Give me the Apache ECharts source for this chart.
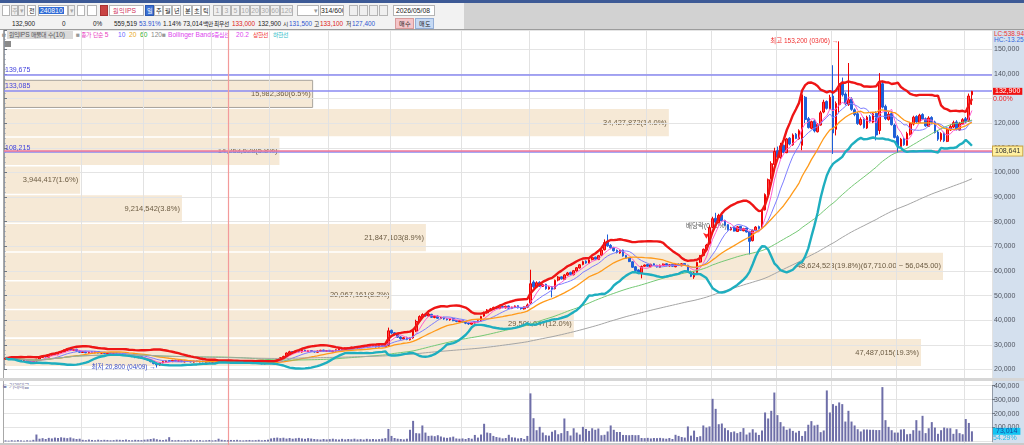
<!DOCTYPE html>
<html lang="ko">
<head>
<meta charset="utf-8">
<title>원익IPS 일봉</title>
<script src="https://cdn.jsdelivr.net/npm/echarts@6/dist/echarts.min.js"></script>
<style>
  @font-face { font-family: 'KRs'; src: local('Noto Sans CJK KR Regular'), local('NotoSansCJKkr-Regular'), local('Noto Sans CJK KR'); size-adjust: 90%; }
  body { margin: 0; width: 1024px; height: 445px; overflow: hidden; background: #fff;
         font-family: 'Liberation Sans', 'KRs', 'Noto Sans CJK KR', sans-serif; font-size: 6.8px; color: #222; }
  .a { position: absolute; white-space: nowrap; }
  .bx { position: absolute; top: 5px; height: 11px; line-height: 10px; border: 1px solid #b4b4b4; background: #fff;
        text-align: center; box-sizing: border-box; overflow: hidden; }
  .off { color: #a8a8a8; background: #efefef; }
  .r2 { position: absolute; top: 19px; line-height: 10px; white-space: nowrap; font-size: 6.4px; }
  .lg { position: absolute; top: 30px; line-height: 9px; white-space: nowrap; font-size: 6.6px; }
  #chart { position: absolute; left: 0; top: 0; width: 1024px; height: 445px; z-index: 5; }
</style>
</head>
<body>
<!-- 상단 툴바 -->
<div class="a" style="left:0;top:0;width:1024px;height:3px;background:#3d5a96"></div>
<div class="a" style="left:0;top:3px;width:1024px;height:26px;background:#d2d2d2"></div>
<div class="a" style="left:0;top:3px;width:464px;height:26px;background:#f2f2f2"></div>
<div class="a" style="left:0;top:29px;width:1024px;height:1px;background:#9c9c9c"></div>

<div class="bx" style="left:2px;width:8px"></div>
<div class="bx off" style="left:11px;width:7px">주</div>
<div class="bx off" style="left:18px;width:7px">▾</div>
<div class="bx" style="left:27px;width:9px">전</div>
<div class="bx" style="left:38px;width:30px;text-align:left"><span style="background:#2f6bd6;color:#fff;padding:0 1px">240810</span></div>
<div class="bx off" style="left:68px;width:7px">▾</div>
<div class="bx" style="left:77px;width:8px"></div>
<div class="bx" style="left:87px;width:10px"></div>
<div class="bx" style="left:100px;width:8px;background:#c94444;border-color:#a33"></div>
<div class="bx" style="left:109px;width:35px;text-align:left;padding-left:3px;color:#d0305a">원익IPS</div>
<div class="bx" style="left:145px;width:9px;background:#3b6fd3;color:#fff;border-color:#2b58b0">일</div>
<div class="bx" style="left:154px;width:9px">주</div>
<div class="bx" style="left:163px;width:9px">월</div>
<div class="bx" style="left:172px;width:9px">년</div>
<div class="bx" style="left:183px;width:9px">분</div>
<div class="bx" style="left:192px;width:9px">초</div>
<div class="bx" style="left:201px;width:9px">틱</div>
<div class="bx off" style="left:213px;width:9px">1</div>
<div class="bx off" style="left:222px;width:9px">3</div>
<div class="bx off" style="left:231px;width:9px">5</div>
<div class="bx off" style="left:240px;width:10px">10</div>
<div class="bx off" style="left:250px;width:10px">20</div>
<div class="bx off" style="left:260px;width:10px">30</div>
<div class="bx off" style="left:270px;width:10px">60</div>
<div class="bx off" style="left:280px;width:13px">120</div>
<div class="bx" style="left:297px;width:22px;text-align:right;color:#999">▾</div>
<div class="bx" style="left:320px;width:24px">314/600</div>
<div class="bx off" style="left:349px;width:9px"></div>
<div class="bx off" style="left:359px;width:9px"></div>
<div class="bx off" style="left:369px;width:9px"></div>
<div class="bx off" style="left:379px;width:9px"></div>
<div class="bx" style="left:393px;width:42px;text-align:left;padding-left:2px">2026/05/08</div>

<div class="r2" style="left:12px">132,900</div>
<div class="r2" style="left:62px">0</div>
<div class="r2" style="left:93px">0%</div>
<div class="r2" style="left:114px">559,519</div>
<div class="r2" style="left:139px;color:#2c55d0">53.91%</div>
<div class="r2" style="left:163px">1.14%</div>
<div class="r2" style="left:183px">73,014백만</div>
<div class="r2" style="left:214px">최우선</div>
<div class="r2" style="left:232px;color:#e02020">133,000</div>
<div class="r2" style="left:258px">132,900</div>
<div class="r2" style="left:283px">시</div>
<div class="r2" style="left:289px;color:#2c55d0">131,500</div>
<div class="r2" style="left:314px">고</div>
<div class="r2" style="left:320px;color:#e02020">133,100</div>
<div class="r2" style="left:346px">저</div>
<div class="r2" style="left:352px;color:#2c55d0">127,400</div>
<div class="bx" style="top:18px;left:395px;width:19px;background:#f4c4c8;border-color:#d89a9a">매수</div>
<div class="bx" style="top:18px;left:415px;width:19px;background:#c6d9f3;border-color:#94aed6">매도</div>

<!-- 패널 배경 -->
<div class="a" style="left:3px;top:30px;width:1px;height:415px;background:#a8a8a8"></div>
<div class="a" style="left:992px;top:30px;width:32px;height:415px;background:#d4e0ee"></div>
<div class="a" style="left:992px;top:30px;width:1px;height:415px;background:#aebdd0"></div>
<div class="a" style="left:0;top:378px;width:1024px;height:3px;background:#d6d6d6"></div>
<div class="a" style="left:0;top:443px;width:1024px;height:2px;background:#cacaca"></div>

<!-- 범례 -->
<div class="lg" style="left:2px;color:#999">■</div>
<div class="lg" style="left:7px;width:66px;background:#dadada;color:#555;padding-left:2px;box-sizing:border-box">원익IPS 매물대 수(10)</div>
<div class="lg" style="left:76px;color:#999">■</div>
<div class="lg" style="left:81px;color:#e83cc0">종가 단순 5</div>
<div class="lg" style="left:118px;color:#6666ff">10</div>
<div class="lg" style="left:129px;color:#e8a820">20</div>
<div class="lg" style="left:140px;color:#33b033">60</div>
<div class="lg" style="left:151px;color:#888">120</div>
<div class="lg" style="left:162px;color:#999">■</div>
<div class="lg" style="left:168px;color:#dd44ee">Bollinger Bands중심선</div>
<div class="lg" style="left:236px;color:#dd44ee">20.2</div>
<div class="lg" style="left:253px;color:#f03030">상한선</div>
<div class="lg" style="left:273px;color:#30bcc8">하한선</div>
<div class="a" style="left:4px;top:41px;width:7px;height:6px;background:#8a8a8a"></div>
<div class="a" style="left:994px;top:30px;color:#ee3333;font-size:6.5px">LC:538.94</div>
<div class="a" style="left:994px;top:36px;color:#3366dd;font-size:6.5px">HC:-13.25</div>
<div class="a" style="left:3px;top:381px;color:#8080a8;font-size:6.5px">■ 거래대금</div>

<div id="chart"></div>

<script>
// 일봉 시가/종가/저가/고가 (원)
const opens = [
  24200, 24700, 24400, 24700, 24300, 23900, 23400, 23700, 23300,
  22800, 23500, 24200, 24900, 25500, 25000, 25800, 26500, 26000,
  26700, 27200, 27800, 28500, 27700, 28200,
  27600, 26900, 27400, 26700, 27200, 26800, 27300, 26600,
  27000, 26400, 26900, 26300, 26700, 26100, 26600, 26100, 25900,
  25600, 25400, 24800, 25200, 24700, 24400,
  24000, 23300, 22500, 21800,
  22700, 23100, 23600, 23200, 23800, 23300, 23700, 23100, 23600, 23400, 23000, 23500, 23100,
  23400, 23000, 23400, 22900, 23300, 22800, 23000, 23400, 23100, 22700, 22900, 23300, 22800, 23200, 22900, 22600, 23000, 22500, 22900,
  22600, 22300, 22800, 22400, 22700,
  23200, 24000, 24900, 25200, 26600,
  27300, 26900, 27600, 27100, 27900, 27300, 27700, 27400, 27000,
  27400, 27900, 27300, 27800, 27200,
  27500, 27900, 28500, 28100, 28800, 28400, 29100, 28700, 29400, 29000, 29700, 29300, 29900, 29600, 29100, 29800,
  29300, 29800, 35900,
  34900, 34300, 33200, 32400, 33000, 32100,
  32800, 35600, 39700,
  41400, 42500, 41700,
  42400, 41100, 41700, 40700, 41200, 40600, 40100, 40700, 39900, 39400, 40000, 39300,
  38900, 38400, 38900, 39300,
  39700, 41700, 43000,
  44300, 44500, 45300, 44700, 45600, 45000, 45800, 44800, 45200, 45900, 45100, 44600,
  45300, 47000, 55500,
  53400, 55400, 53700, 54600, 52700, 53600,
  52800, 56300, 57600, 56600, 58300, 59400, 58500, 60000,
  61200, 62600, 64000, 63100, 64600, 65600, 64700,
  66400, 68600, 71800,
  70400, 69500, 68400, 67300, 68500, 66300, 65300, 63700, 61700, 60400,
  59200, 61900, 62600, 61700, 62900, 62300, 61500, 62200, 62900, 62000, 62700, 61700, 62800, 62100, 63000,
  62300, 59600, 57600,
  59400, 63600, 66300, 68700,
  71000, 77700, 81400, 79600, 82700, 80500,
  78800, 76700, 77700, 76000, 78100, 76300, 77400, 76000,
  72300, 76400, 78000,
  77500, 84800, 91200,
  97500, 103200, 108800,
  106000, 111000, 108000, 113900,
  111200, 115500, 113600, 111000,
  130500, 121800, 117900, 120900, 116500,
  119200, 124500, 128800, 125800,
  131000, 117500, 127500,
  136500, 131800, 127500, 129800,
  125400, 123800, 119500, 121800, 118000, 122600, 120400, 124000,
  117000,
  136000, 126800, 121500, 123900,
  119200, 114500, 110500, 113800, 111000,
  115500, 119600, 122700, 120300, 123500, 121800, 118700, 122300,
  120500, 116400, 113300, 116000, 112600,
  117200, 118400, 120500, 117200, 119600, 121800,
  120800, 131500
];
const closes = [
  24600, 24300, 24800, 24200, 23800, 23500, 23600, 23200, 22900,
  23400, 24100, 24800, 25400, 25100, 25900, 26400, 26100, 26800,
  27300, 27900, 28400, 27800, 28100, 27500,
  27000, 27300, 26800, 27100, 26900, 27200, 26700, 26900,
  26500, 26800, 26400, 26600, 26200, 26500, 26000, 25800, 25500,
  25300, 24900, 25100, 24600, 24300, 23900,
  23200, 22400, 21900, 22800,
  23200, 23500, 23300, 23700, 23400, 23600, 23200, 23500, 23300, 23100, 23400, 23200, 23300,
  23100, 23300, 23000, 23200, 22900, 23100, 23300, 23000, 22800, 23000, 23200, 22900, 23100, 22800, 22700, 22900, 22600, 22800, 22500,
  22400, 22700, 22500, 22800, 23300,
  24100, 24800, 25300, 26700, 27200,
  27000, 27500, 27200, 27800, 27400, 27600, 27300, 27100, 27500,
  27800, 27400, 27700, 27300, 27600,
  28000, 28400, 28200, 28700, 28500, 29000, 28800, 29300, 29100, 29600, 29400, 29800, 29500, 29200, 29700, 29400,
  29900, 35700, 34800,
  34200, 33100, 32500, 32900, 32200, 32700,
  35800, 39500, 41500,
  42300, 41800, 42500,
  41200, 41600, 40800, 41100, 40500, 40200, 40600, 39800, 39500, 39900, 39200, 38800,
  38500, 39000, 39400, 39800,
  41500, 43200, 44100,
  44600, 45200, 44800, 45500, 45100, 45700, 44900, 45300, 45800, 45000, 44700, 45400,
  46200, 54800, 53600,
  55200, 53800, 54500, 52800, 53400, 52600,
  56200, 57500, 56800, 58400, 59200, 58600, 60100, 61300,
  62500, 63800, 63200, 64500, 65400, 64800, 66200,
  68500, 71500, 70200,
  69400, 68200, 67500, 68300, 66100, 65200, 63800, 61500, 60200, 59400,
  61800, 62400, 61900, 62700, 62200, 61600, 62300, 62800, 62100, 62500, 61900, 62600, 62200, 62900, 62400,
  59500, 57800, 59200,
  63500, 66200, 68800, 70500,
  77500, 81200, 79800, 82500, 80300, 78600,
  76800, 77500, 76200, 77900, 76500, 77200, 75800, 72000,
  76500, 77800, 77200,
  84500, 91000, 97000,
  103500, 108500, 106200,
  110800, 108200, 113600, 111500,
  115200, 113800, 116900, 131500,
  121500, 118200, 120600, 116800, 119500,
  124200, 128500, 126000, 130500,
  116000, 128000, 136000,
  131500, 127800, 129500, 125600,
  123500, 119800, 121500, 118200, 122400, 120600, 123800, 115200,
  136500,
  126500, 121800, 123600, 119400,
  114200, 110800, 113500, 111200, 115800,
  119800, 122400, 120500, 123200, 121600, 118900, 122100, 120300,
  116200, 113500, 115800, 112800, 117400,
  118600, 120200, 117500, 119800, 121400, 120500,
  131000, 132900
];
const lows = [
  23900, 24000, 24200, 24000, 23600, 23300, 23200, 23000, 22700,
  22600, 23300, 24000, 24700, 24900, 24800, 25600, 25900, 25800,
  26500, 27000, 27600, 27600, 27500, 27200,
  26700, 26700, 26600, 26500, 26700, 26600, 26500, 26400,
  26200, 26200, 26200, 26100, 26000, 25900, 25800, 25600, 25200,
  25000, 24600, 24600, 24300, 24100, 23600,
  22900, 22100, 20800, 21500,
  22500, 22900, 23000, 23000, 23200, 23100, 23000, 22900, 23100, 22900, 22800, 23000, 22900,
  22900, 22800, 22800, 22700, 22700, 22700, 22800, 22800, 22600, 22500, 22700, 22700, 22600, 22600, 22500, 22400, 22400, 22300, 22300,
  22100, 22100, 22300, 22200, 22500,
  23000, 23700, 24600, 25000, 26300,
  26700, 26700, 27000, 26900, 27200, 27100, 27100, 26900, 26800,
  27200, 27200, 27100, 27100, 27000,
  27300, 27700, 28000, 27900, 28300, 28200, 28600, 28500, 28900, 28800, 29200, 29100, 29300, 28900, 29000, 29100,
  29000, 29500, 34300,
  33800, 32800, 32100, 32100, 31900, 31800,
  32500, 35200, 39300,
  41000, 41400, 41300,
  40900, 40800, 40500, 40400, 40200, 39900, 39800, 39600, 39200, 39200, 38900, 38400,
  38100, 38200, 38700, 39000,
  39500, 41400, 42700,
  43900, 44300, 44500, 44500, 44900, 44800, 44600, 44500, 45000, 44800, 44300, 44300,
  44900, 46500, 53000,
  53000, 53500, 53500, 52400, 52400, 49300,
  52500, 55800, 56500, 56300, 58000, 58200, 58200, 59700,
  61000, 62300, 62900, 62900, 64300, 64500, 64400,
  66100, 68300, 69800,
  68800, 67900, 67100, 67000, 65800, 65000, 63600, 61200, 59800, 58700,
  57000, 61700, 61700, 61500, 62000, 61400, 61300, 62000, 61900, 61800, 61700, 61500, 62000, 61900, 62200,
  59200, 57500, 56800,
  59200, 63300, 66000, 68400,
  70800, 77300, 79300, 79300, 80100, 78300,
  76400, 76400, 76000, 75800, 76300, 76100, 75600, 66700,
  72000, 76200, 76800,
  77300, 84500, 90800,
  97200, 102800, 105800,
  105500, 107800, 107800, 111000,
  110800, 113500, 113300, 109000,
  120000, 117800, 117500, 116200, 116200,
  119000, 124000, 125500, 125500,
  107500, 115000, 124000,
  130800, 127200, 127000, 125000,
  122800, 119300, 119000, 117800, 117600, 120200, 120000, 113000,
  115500,
  126000, 121200, 121000, 119000,
  113800, 108000, 110000, 110800, 110800,
  115000, 119000, 120000, 120000, 121200, 118500, 118500, 119800,
  115800, 112800, 112500, 112300, 112300,
  116800, 118000, 117000, 117000, 119300, 120000,
  120500, 127400
];
const highs = [
  24900, 24800, 25000, 24900, 24400, 24000, 23800, 23800, 23400,
  23600, 24300, 25000, 25600, 25700, 26100, 26600, 26600, 27000,
  27500, 28100, 28700, 28600, 28300, 28400,
  27700, 27500, 27500, 27300, 27400, 27400, 27400, 27100,
  27100, 27000, 27000, 26800, 26800, 26700, 26700, 26300, 26000,
  25800, 25500, 25300, 25300, 24900, 24500,
  24100, 23500, 22700, 23000,
  23400, 23700, 23800, 23900, 23900, 23700, 23800, 23600, 23700, 23500, 23500, 23600, 23400,
  23500, 23400, 23500, 23300, 23400, 23200, 23400, 23500, 23200, 23100, 23300, 23400, 23200, 23300, 23000, 23000, 23100, 22900, 23000,
  22700, 22800, 22900, 22900, 23500,
  24400, 25000, 25600, 26900, 27600,
  27500, 27700, 27800, 28000, 28000, 27800, 27800, 27500, 27700,
  28000, 28000, 27900, 27900, 27800,
  28200, 28600, 28700, 28900, 28900, 29200, 29200, 29500, 29500, 29800, 29800, 30000, 30100, 29800, 29900, 30000,
  30200, 37000, 36200,
  35200, 34500, 33500, 33200, 33300, 33000,
  36500, 40200, 42000,
  42800, 42700, 42900,
  42600, 41900, 41900, 41300, 41400, 40800, 40800, 40900, 40100, 40100, 40200, 39500,
  39100, 39200, 39600, 40000,
  41800, 43500, 44500,
  45000, 45500, 45500, 45800, 45800, 45900, 46000, 45500, 46000, 46100, 45200, 45600,
  46800, 60500, 56200,
  55800, 55800, 54900, 54800, 53800, 53900,
  56500, 57900, 57800, 58700, 59600, 59700, 60400, 61600,
  62800, 64200, 64300, 64800, 65800, 65800, 66500,
  68800, 72800, 74800,
  70900, 69800, 68700, 68600, 68700, 66500, 65500, 64000, 62000, 60700,
  62200, 62600, 62800, 62900, 63100, 62500, 62600, 63000, 63100, 62800, 62900, 62900, 63000, 63200, 63200,
  62500, 60100, 59700,
  63800, 66500, 69100, 71000,
  78500, 82000, 83600, 83200, 83000, 80800,
  79000, 77900, 78000, 78300, 78300, 77500, 77600, 76300,
  76800, 78200, 78400,
  85000, 91500, 97500,
  104500, 110000, 110500,
  112000, 111300, 114000, 114300,
  115800, 116000, 117500, 133500,
  131000, 122500, 121000, 121500, 120000,
  125000, 129500, 129200, 131500,
  143500, 128800, 153200,
  138500, 132500, 144400, 130500,
  126000, 124500, 122300, 122500, 123000, 123300, 124500, 124800,
  140300,
  137200, 127500, 124500, 124800,
  119800, 115200, 114000, 114300, 116500,
  120500, 123000, 123200, 123800, 124000, 122300, 122800, 122800,
  121000, 117000, 116300, 116500, 118000,
  119500, 121000, 121200, 120500, 122000, 122500,
  132000, 133100
];
// 거래대금 (백만원)
const volumes = [
  8000, 6000, 9000, 7000, 10000, 8000, 6000, 9000, 7000, 12000,
  50000,
  20000, 24000, 18000, 26000, 22000, 28000, 25000, 30000, 27000, 24000, 29000, 22000, 18000, 20000,
  12000, 10000, 14000, 11000, 9000, 13000, 10000, 12000, 11000, 9000, 10000, 13000, 12000, 11000, 14000,
  10000, 9000, 12000, 11000, 10000, 13000, 15000, 18000, 22000, 16000, 12000, 10000, 14000,
  31000,
  10000, 9000, 11000, 8000, 10000, 9000, 12000, 8000, 9000, 10000, 7000, 9000, 11000, 8000, 10000,
  20000,
  12000, 10000, 9000, 11000, 10000, 12000, 9000, 8000, 10000, 11000, 9000, 10000, 12000, 9000, 11000, 13000,
  22000, 26000, 28000, 24000, 27000, 21000, 25000, 20000, 23000, 26000, 22000, 19000, 24000, 21000, 18000,
  16000, 14000, 18000, 15000, 17000, 20000, 16000, 14000, 19000, 15000, 18000, 16000, 20000, 15000, 17000,
  14000, 19000, 16000, 18000, 15000, 17000, 20000, 24000,
  90000, 40000,
  25000, 20000, 18000, 15000, 20000,
  84000, 148000, 60000, 58000, 115000, 64000,
  40000, 42000, 38000, 45000, 36000,
  29000, 26000, 30000, 35000, 22000,
  20000, 22000, 18000, 25000, 20000,
  47000, 28000, 50000, 127000, 64000, 60000,
  40000, 32000, 28000, 22000, 25000,
  48000,
  30000, 28000, 22000, 25000, 18000,
  40000, 345000, 167000, 81000, 105000, 64000, 45000, 42000, 70000, 81000,
  52000, 60000, 165000, 75000, 43000, 95000, 64000, 50000, 105000, 90000,
  76000, 95000, 84000, 93000, 45000, 48000, 72000, 115000, 84000, 68000,
  68000,
  47000, 46000, 45000, 47000, 45000, 46000,
  25000, 24000, 26000, 22000, 25000, 24000, 26000, 23000,
  20000, 25000, 18000, 48000, 40000,
  32000, 28000, 108000, 42000, 78000, 32000, 38000, 115000, 100000, 108000,
  306000, 234000, 124000, 129000, 96000, 81000, 67000, 72000, 60000, 69000,
  96000, 50000, 64000, 88000, 64000, 47000, 79000, 208000, 165000, 220000,
  351000, 189000, 139000, 108000, 84000, 93000, 76000, 64000, 76000, 40000,
  74000, 120000, 146000, 115000, 120000, 67000, 79000, 366000, 208000, 268000,
  256000, 280000, 268000, 143000, 220000, 143000, 115000, 88000, 72000, 86000,
  86000, 84000, 84000, 82000, 82000, 390000, 153000, 105000, 81000, 64000,
  64000, 86000, 88000, 52000, 55000, 81000, 153000, 78000, 184000, 60000,
  95000, 139000, 100000, 55000, 81000, 100000, 95000, 95000, 55000, 88000,
  60000, 52000, 161000, 133000, 73014
];
const volumeRatio = '54.29%';

// 매물대 (가격구간 경계, 구간별 거래량, 비중%)
const profileEdges = [137700, 126035, 114370, 102705, 91040, 79375, 67710, 56045, 44380, 32715, 21050];
const profileVolumes = [15982360, 34427872, 14263628, 3944417, 9214542, 21847103, 48624523, 20067161, 29508047, 47487015];
const profileShares = [6.5, 14.0, 5.8, 1.6, 3.8, 8.9, 19.8, 8.2, 12.0, 19.3];

// 보조선
const guideLevels = [139675, 133085, 108215];
const pinkLevel = 108641;
const monthStarts = [25, 45, 67, 86, 105, 125, 148, 170, 188, 208, 229, 250, 268, 289, 311];
const markerIndex = 72;
const exDivIndex = 227;
const highDate = '03/06', lowDate = '04/09';

const maPeriods = [5, 10, 20, 60, 120];
const maColors = ['#ff5fcf', '#7d7dff', '#ff9a1a', '#74c874', '#a5a5a5'];

const SLOTS = 320; // 314봉 + 오른쪽 여백
const cats = Array.from({ length: SLOTS }, (_, i) => i);
const fmt = v => Number(v).toLocaleString('en-US');
const fmt2 = v => Number(v).toLocaleString('en-US', { minimumFractionDigits: 2 });
const FONT = "'Liberation Sans', 'Noto Sans CJK KR', sans-serif";
const CLEAR = 'rgba(0,0,0,0)';

function sma(src, n) {
  return src.map((_, i) => {
    const w = src.slice(Math.max(0, i - n + 1), i + 1);
    return Math.round(w.reduce((a, b) => a + b, 0) / w.length);
  });
}
function bollinger(src, n, k) {
  const up = [], lo = [];
  src.forEach((_, i) => {
    const w = src.slice(Math.max(0, i - n + 1), i + 1);
    const m = w.reduce((a, b) => a + b, 0) / w.length;
    const sd = Math.sqrt(w.reduce((a, b) => a + (b - m) * (b - m), 0) / w.length);
    up.push(Math.round(m + k * sd));
    lo.push(Math.round(m - k * sd));
  });
  return [up, lo];
}

const ohlc = closes.map((c, i) => [opens[i], c, lows[i], highs[i]]);
const [bbUp, bbLow] = bollinger(closes, 20, 2);
const lastClose = closes[closes.length - 1];
const lastVolume = volumes[volumes.length - 1];
const hiIdx = highs.indexOf(Math.max(...highs));
const loIdx = lows.indexOf(Math.min(...lows));
const maxBin = profileVolumes.indexOf(Math.max(...profileVolumes));
const curBin = profileEdges.findIndex((e, i) => i < 10 && lastClose <= e && lastClose > profileEdges[i + 1]);

const profileData = profileVolumes.map((v, i) => [v, profileEdges[i + 1], profileEdges[i]]);
const profileLabels = profileVolumes.map((v, i) => {
  let s = fmt(v) + '(' + profileShares[i].toFixed(1) + '%)';
  if (i === maxBin) s += '(' + fmt2(profileEdges[i]) + ' ~ ' + fmt2(profileEdges[i + 1]) + ')';
  return s;
});

const L = 4, W = 988;
const monthLines = { show: true, interval: i => monthStarts.includes(i), lineStyle: { color: '#e2e2e2', width: 1 } };
const hidden = { show: false };
const note = (color) => ({ show: true, color, fontSize: 6.5, fontFamily: FONT });

const chart = echarts.init(document.getElementById('chart'));
chart.setOption({
  animation: false,
  grid: [
    { left: L, top: 30, width: W, height: 348, outerBoundsMode: 'none' },      // 가격 패널 틀
    { left: L, top: 30, width: W, height: 339.5, outerBoundsMode: 'none' },    // 가격
    { left: L, top: 385.7, width: W, height: 55.8, outerBoundsMode: 'none' },  // 거래대금
    { left: L, top: 381, width: W, height: 62, outerBoundsMode: 'none' },      // 거래대금 패널 틀
    { left: L, top: 30, width: W, height: 415, outerBoundsMode: 'none' }       // 세로 기준선
  ],
  xAxis: [
    { type: 'category', gridIndex: 0, data: cats, z: 3, axisLine: hidden, axisTick: hidden, axisLabel: hidden, splitLine: monthLines },
    { type: 'category', gridIndex: 1, data: cats, show: false },
    { type: 'value', gridIndex: 1, min: 0, max: 51162000, show: false },
    { type: 'category', gridIndex: 2, data: cats, show: false },
    { type: 'category', gridIndex: 3, data: cats, z: 3, axisLine: hidden, axisTick: hidden, axisLabel: hidden, splitLine: monthLines },
    { type: 'category', gridIndex: 4, data: cats, show: false }
  ],
  yAxis: [
    { type: 'value', gridIndex: 0, min: 0, max: 1, show: false },
    {
      type: 'value', gridIndex: 1, position: 'right', min: 20000, max: 157800, interval: 10000, z: 3,
      axisLine: { show: true, lineStyle: { color: '#8a93a0', type: 'dotted' } },
      axisTick: { show: true, length: 3, lineStyle: { color: '#6f7680' } },
      minorTick: { show: true, splitNumber: 5, length: 1.5, lineStyle: { color: '#8a93a0' } },
      axisLabel: {
        color: '#505560', fontSize: 7, fontFamily: FONT, margin: 2, showMaxLabel: false,
        formatter: v => (v === 130000 || v % 10000 ? '' : fmt(v))
      },
      splitLine: { lineStyle: { color: '#e4e4e4' } }
    },
    {
      type: 'value', gridIndex: 2, position: 'right', min: 0, max: 400000, interval: 100000, z: 3,
      axisLine: { show: true, lineStyle: { color: '#8a93a0', type: 'dotted' } },
      axisTick: { show: true, length: 3, lineStyle: { color: '#6f7680' } },
      axisLabel: { color: '#505560', fontSize: 7, fontFamily: FONT, margin: 2, showMinLabel: false, formatter: v => fmt(v) },
      splitLine: { lineStyle: { color: '#e4e4e4' } }
    },
    { type: 'value', gridIndex: 3, min: 0, max: 1, show: false },
    { type: 'value', gridIndex: 4, min: 0, max: 1, show: false }
  ],
  series: [
    // 매물대
    {
      type: 'custom', xAxisIndex: 2, yAxisIndex: 1, z: 1, silent: true, clip: false,
      data: profileData,
      renderItem: (params, api) => {
        const i = params.dataIndex;
        const p0 = api.coord([0, api.value(2)]);
        const p1 = api.coord([api.value(0), api.value(1)]);
        return {
          type: 'group',
          children: [
            {
              type: 'rect',
              shape: { x: p0[0], y: p0[1] + 0.8, width: p1[0] - p0[0], height: p1[1] - p0[1] - 1.6 },
              style: { fill: '#f6e9d6', stroke: i === curBin ? '#a9a49c' : null, lineWidth: 1 }
            },
            {
              type: 'text',
              style: {
                text: profileLabels[i], x: p1[0] - 2, y: (p0[1] + p1[1]) / 2,
                align: 'right', verticalAlign: 'middle', fill: '#6b5b42', font: '7.5px ' + FONT
              }
            }
          ]
        };
      }
    },
    {
      type: 'candlestick', xAxisIndex: 1, yAxisIndex: 1, z: 5, silent: true, clip: false,
      data: ohlc, barWidth: 2.2,
      itemStyle: { color: '#ff4646', color0: '#1f5fd8', borderColor: '#ee0000', borderColor0: '#1f5fd8', borderWidth: 1 },
      markLine: {
        symbol: ['none', 'none'], silent: true, animation: false,
        data: [
          ...guideLevels.map(v => ({
            yAxis: v,
            lineStyle: { color: '#8a8af2', width: 1.5, type: 'solid' },
            label: { show: true, position: 'insideStartTop', formatter: fmt(v), color: '#4343dd', fontSize: 7, fontFamily: FONT, distance: [1, 1] }
          })),
          {
            yAxis: pinkLevel,
            lineStyle: { color: '#f07898', width: 1.5, type: 'solid' },
            label: {
              show: true, position: 'end', distance: 1, formatter: fmt(pinkLevel), color: '#333', fontSize: 7, fontFamily: FONT,
              backgroundColor: '#fff0a0', borderColor: '#c9a448', borderWidth: 1, padding: [1, 2]
            }
          },
          {
            yAxis: lastClose,
            lineStyle: { color: CLEAR, width: 0 },
            label: {
              show: true, position: 'end', distance: 1,
              formatter: '{e| }\n{a|' + fmt(lastClose) + '}\n{b|0.00%}',
              rich: {
                e: { fontSize: 7, lineHeight: 8 },
                a: { fontSize: 7, lineHeight: 8, color: '#fff', backgroundColor: '#f01010', padding: [0, 2], fontFamily: FONT },
                b: { fontSize: 7, lineHeight: 8, color: '#f02020', fontFamily: FONT }
              }
            }
          }
        ]
      }
    },
    ...maPeriods.map((n, k) => ({
      type: 'line', xAxisIndex: 1, yAxisIndex: 1, z: 6, silent: true, showSymbol: false, clip: false,
      data: sma(closes, n),
      lineStyle: { color: maColors[k], width: n === 20 ? 1.3 : 1 }
    })),
    {
      type: 'line', xAxisIndex: 1, yAxisIndex: 1, z: 7, silent: true, showSymbol: false, clip: false,
      data: bbUp, lineStyle: { color: '#ee1515', width: 2.4 }
    },
    {
      type: 'line', xAxisIndex: 1, yAxisIndex: 1, z: 7, silent: true, showSymbol: false, clip: false,
      data: bbLow, lineStyle: { color: '#1eaebf', width: 2.4 }
    },
    // 최고/최저/배당락 표시
    {
      type: 'line', xAxisIndex: 1, yAxisIndex: 1, z: 9, silent: true, data: [],
      markPoint: {
        silent: true, animation: false,
        data: [
          {
            coord: [hiIdx, highs[hiIdx]], symbol: 'circle', symbolSize: 0,
            label: { ...note('#f03030'), position: 'left', distance: 1, formatter: '최고 ' + fmt(highs[hiIdx]) + ' (' + highDate + ') →' }
          },
          {
            coord: [loIdx, lows[loIdx]], symbol: 'circle', symbolSize: 0,
            label: { ...note('#3b4fc8'), position: 'left', distance: 1, formatter: '최저 ' + fmt(lows[loIdx]) + ' (' + lowDate + ') →' }
          },
          {
            coord: [exDivIndex, highs[exDivIndex]], symbol: 'arrow', symbolRotate: 180, symbolSize: [5, 6], symbolOffset: [0, -5],
            itemStyle: { color: '#ff2020' },
            label: { ...note('#555'), position: 'top', distance: 3, formatter: '배당락(0.00%)' }
          }
        ]
      }
    },
    {
      type: 'bar', xAxisIndex: 3, yAxisIndex: 2, z: 5, silent: true, barWidth: 2,
      data: volumes, itemStyle: { color: '#6e6ea8' },
      markLine: {
        symbol: ['none', 'none'], silent: true, animation: false,
        data: [{
          yAxis: lastVolume,
          lineStyle: { color: CLEAR, width: 0 },
          label: {
            show: true, position: 'end', distance: 1,
            formatter: '{e| }\n{a|' + fmt(lastVolume) + '}\n{b|' + volumeRatio + '}',
            rich: {
              e: { fontSize: 7, lineHeight: 7 },
              a: { fontSize: 7, lineHeight: 7, color: '#1a4aa0', backgroundColor: '#12c4f2', padding: [0, 3], fontFamily: FONT },
              b: { fontSize: 7, lineHeight: 7, color: '#20b8e8', fontFamily: FONT }
            }
          }
        }]
      }
    },
    // 세로 기준선
    {
      type: 'line', xAxisIndex: 5, yAxisIndex: 4, z: 8, silent: true, data: [],
      markLine: {
        symbol: ['none', 'none'], silent: true, animation: false,
        lineStyle: { color: '#f39a9a', width: 1.2, type: 'solid' },
        label: { show: false },
        data: [{ xAxis: markerIndex }]
      }
    }
  ]
});
</script>
</body>
</html>
